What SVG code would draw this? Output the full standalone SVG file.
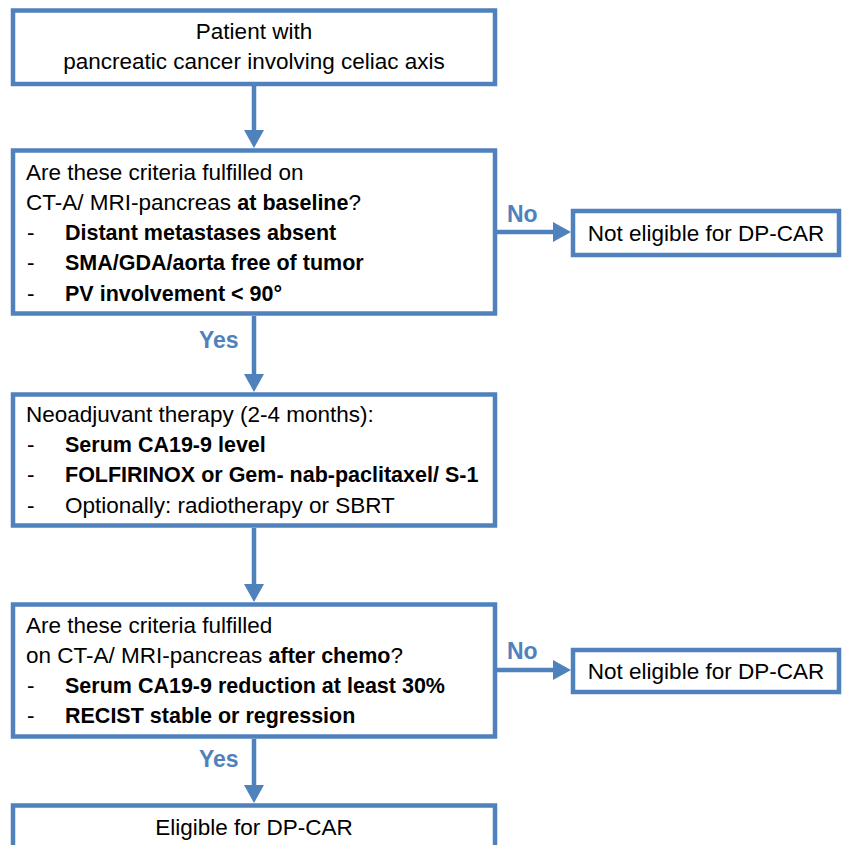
<svg xmlns="http://www.w3.org/2000/svg" width="843" height="845" viewBox="0 0 843 845">
<style>
.box{fill:#fff;stroke:#4F81BD;stroke-width:4.5}
.t{font-family:"Liberation Sans",Arial,sans-serif;font-size:22.5px;fill:#000}
.b{font-weight:bold;font-size:21.5px}
.c{text-anchor:middle}
.lbl{font-family:"Liberation Sans",Arial,sans-serif;font-size:23px;font-weight:bold;fill:#4F81BD}
.con{stroke:#4F81BD;stroke-width:4.5;fill:none}
</style>
<defs>
<marker id="ah" markerUnits="userSpaceOnUse" markerWidth="18" markerHeight="20" refX="0" refY="10" orient="auto" viewBox="0 0 18 20">
<path d="M0,0 L18,10 L0,20 Z" fill="#4F81BD"/>
</marker>
</defs>
<rect width="843" height="845" fill="#fff"/>
<g id="connectors">
<line class="con" x1="254" y1="86" x2="254" y2="130" marker-end="url(#ah)"/>
<line class="con" x1="254" y1="316" x2="254" y2="374" marker-end="url(#ah)"/>
<line class="con" x1="254" y1="528" x2="254" y2="584" marker-end="url(#ah)"/>
<line class="con" x1="254" y1="739" x2="254" y2="785" marker-end="url(#ah)"/>
<line class="con" x1="497" y1="232" x2="553" y2="232" marker-end="url(#ah)"/>
<line class="con" x1="497" y1="670" x2="553" y2="670" marker-end="url(#ah)"/>
<text class="lbl" x="507" y="222">No</text>
<text class="lbl" x="507" y="659">No</text>
<text class="lbl" x="199" y="348">Yes</text>
<text class="lbl" x="199" y="767">Yes</text>
</g>
<g id="start">
<rect class="box" x="13" y="10.5" width="482" height="73.5"/>
<text class="t c" x="254" y="39">Patient with</text>
<text class="t c" x="254" y="69">pancreatic cancer involving celiac axis</text>
</g>
<g id="baseline">
<rect class="box" x="13" y="150.5" width="482" height="163"/>
<text class="t" x="26" y="180">Are these criteria fulfilled on</text>
<text class="t" x="26" y="210">CT-A/ MRI-pancreas <tspan class="b">at baseline</tspan>?</text>
<text class="t" x="27" y="240">-</text>
<text class="t b" x="65" y="240">Distant metastases absent</text>
<text class="t" x="27" y="270">-</text>
<text class="t b" x="65" y="270">SMA/GDA/aorta free of tumor</text>
<text class="t" x="27" y="301">-</text>
<text class="t b" x="65" y="301">PV involvement &lt; 90°</text>
</g>
<g id="noteligible1">
<rect class="box" x="573" y="211" width="266" height="44"/>
<text class="t c" x="706" y="241">Not eligible for DP-CAR</text>
</g>
<g id="neoadjuvant">
<rect class="box" x="13" y="394.5" width="482" height="131"/>
<text class="t" x="26" y="422">Neoadjuvant therapy (2-4 months):</text>
<text class="t" x="27" y="452">-</text>
<text class="t b" x="65" y="452">Serum CA19-9 level</text>
<text class="t" x="27" y="482">-</text>
<text class="t b" x="65" y="482">FOLFIRINOX or Gem- nab-paclitaxel/ S-1</text>
<text class="t" x="27" y="513">-</text>
<text class="t" x="65" y="513">Optionally: radiotherapy or SBRT</text>
</g>
<g id="afterchemo">
<rect class="box" x="13" y="604.5" width="482" height="132"/>
<text class="t" x="26" y="633">Are these criteria fulfilled</text>
<text class="t" x="26" y="663">on CT-A/ MRI-pancreas <tspan class="b">after chemo</tspan>?</text>
<text class="t" x="27" y="693">-</text>
<text class="t b" x="65" y="693">Serum CA19-9 reduction at least 30%</text>
<text class="t" x="27" y="723">-</text>
<text class="t b" x="65" y="723">RECIST stable or regression</text>
</g>
<g id="noteligible2">
<rect class="box" x="573" y="650" width="266" height="42"/>
<text class="t c" x="706" y="679">Not eligible for DP-CAR</text>
</g>
<g id="eligible">
<rect class="box" x="13" y="805.5" width="482" height="60"/>
<text class="t c" x="254" y="835">Eligible for DP-CAR</text>
</g>
</svg>
